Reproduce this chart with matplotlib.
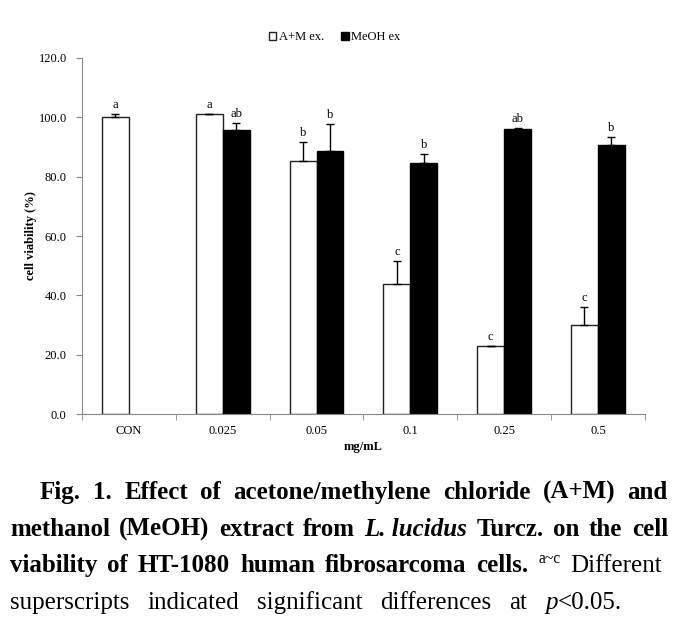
import numpy as np
import matplotlib.pyplot as plt

# data
categories = ["CON", "0.025", "0.05", "0.1", "0.25", "0.5"]
am_mean = [100.0, 101.0, 85.3, 43.7, 23.1, 30.0]
am_err = [1.0, 0.0, 6.5, 8.0, 0.0, 6.0]
am_sig = ["a", "a", "b", "c", "c", "c"]
meoh_mean = [np.nan, 95.7, 88.8, 84.7, 96.1, 90.7]
meoh_err = [0.0, 2.3, 8.9, 2.9, 0.3, 2.6]
meoh_sig = ["", "ab", "b", "b", "ab", "b"]
y_ticks = [0, 20, 40, 60, 80, 100, 120]

serif = "Liberation Serif"
plt.rcParams["font.family"] = serif

fig = plt.figure(figsize=(6.86, 6.44), dpi=100)
ax = fig.add_axes([0.1195, 0.357, 0.8205, 0.553])

x = np.arange(len(categories))
w = 0.287
edge = "#222222"

ax.bar(x - w / 2, am_mean, w, color="white", edgecolor=edge, linewidth=1.0,
       label="A+M ex.", zorder=2)
ax.bar(x + w / 2, meoh_mean, w, color="black", edgecolor="black", linewidth=1.0,
       label="MeOH ex", zorder=2)

# upper error bars only
ax.errorbar(x - w / 2, am_mean, yerr=[np.zeros(len(x)), am_err], fmt="none",
            ecolor="black", elinewidth=1.0, capsize=3, capthick=1.0, zorder=3)
ax.errorbar(x + w / 2, meoh_mean, yerr=[np.zeros(len(x)), meoh_err], fmt="none",
            ecolor="black", elinewidth=1.0, capsize=3, capthick=1.0, zorder=3)

for i in range(len(x)):
    ax.text(x[i] - w / 2, am_mean[i] + am_err[i] + 1.0, am_sig[i],
            ha="center", va="bottom", fontsize=9)
    if not np.isnan(meoh_mean[i]):
        ax.text(x[i] + w / 2, meoh_mean[i] + meoh_err[i] + 1.0, meoh_sig[i],
                ha="center", va="bottom", fontsize=9)

ax.set_xlim(-0.5, len(categories) - 0.5)
ax.set_ylim(0, 120)
ax.set_yticks(y_ticks)
ax.set_yticklabels(["%.1f" % v for v in y_ticks], fontsize=9)
ax.set_xticks(x)
ax.set_xticklabels(categories, fontsize=9)
ax.set_xticks(np.arange(-0.5, len(categories)), minor=True)
ax.tick_params(axis="x", which="major", length=0, pad=8)
ax.tick_params(axis="x", which="minor", length=4, color="#888888", direction="out")
ax.tick_params(axis="y", length=4, color="#888888", direction="out", pad=7)
for s in ["top", "right"]:
    ax.spines[s].set_visible(False)
for s in ["left", "bottom"]:
    ax.spines[s].set_color("#888888")

ax.set_ylabel("cell viability (%)", fontsize=9, fontweight="bold", labelpad=1)
ax.set_xlabel("mg/mL", fontsize=9, fontweight="bold", labelpad=3)

leg = ax.legend(loc="center", bbox_to_anchor=(0.449, 1.059), ncol=2,
                frameon=False, fontsize=9, handlelength=0.6, handleheight=0.6,
                handletextpad=0.2, columnspacing=1.4)

# caption, justified line by line; each word is a list of (text, style) pieces
B, N, BI, SUP = "bold", "normal", "bolditalic", "sup"
I = "italic"
caption = [
    (40, 668, [[("Fig.", B)], [("1.", B)], [("Effect", B)], [("of", B)],
               [("acetone/methylene", B)], [("chloride", B)], [("(A+M)", B)], [("and", B)]]),
    (10, 668, [[("methanol", B)], [("(MeOH)", B)], [("extract", B)], [("from", B)],
               [("L. lucidus", BI)], [("Turcz.", B)], [("on", B)], [("the", B)], [("cell", B)]]),
    (10, 662, [[("viability", B)], [("of", B)], [("HT-1080", B)], [("human", B)],
               [("fibrosarcoma", B)], [("cells.", B)], [("a~c", SUP)], [("Different", N)]]),
    (10, 622, [[("superscripts", N)], [("indicated", N)], [("significant", N)],
               [("differences", N)], [("at", N)], [("p", I), ("<0.05.", N)]]),
]
line_y = [499, 536, 572, 609]
fs = 18

renderer = fig.canvas.get_renderer()
for (x0, x1, words), yy in zip(caption, line_y):
    groups = []
    for word in words:
        pieces = []
        for txt, st in word:
            kw = dict(fontsize=fs, va="baseline", ha="left")
            dy = 0
            if st == B:
                kw["fontweight"] = "bold"
            elif st == BI:
                kw.update(fontweight="bold", fontstyle="italic")
            elif st == I:
                kw["fontstyle"] = "italic"
            elif st == SUP:
                kw["fontsize"] = fs * 0.62
                dy = 9
            t = fig.text(0, 1 - (yy - dy) / 644, txt, **kw)
            pieces.append((t, t.get_window_extent(renderer).width))
        groups.append(pieces)
    widths = [sum(p[1] for p in g) for g in groups]
    gap = (x1 - x0 - sum(widths)) / (len(groups) - 1)
    pos = x0
    for g, wd in zip(groups, widths):
        px = pos
        for t, pw in g:
            t.set_x(px / 686)
            px += pw
        pos += wd + gap

fig.savefig("out.png", dpi=100)
